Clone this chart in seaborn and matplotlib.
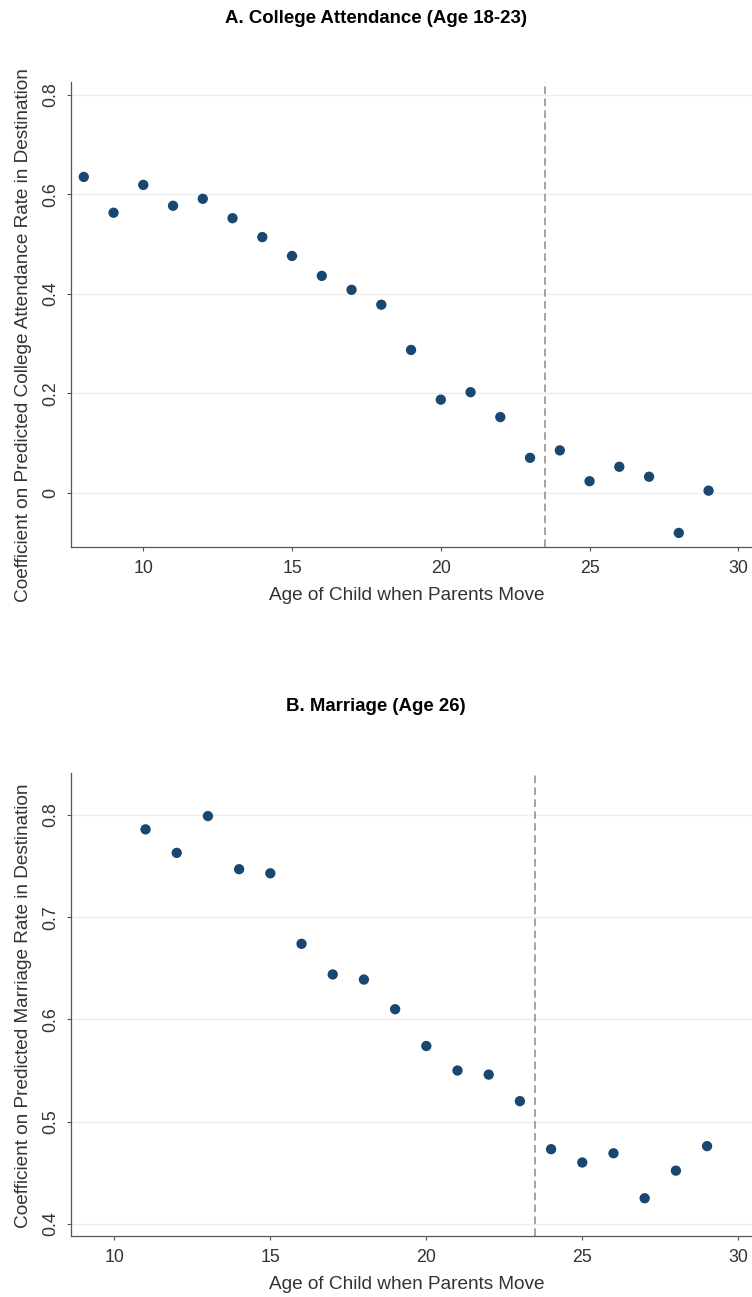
import matplotlib
matplotlib.use("Agg")
import matplotlib.pyplot as plt
import seaborn as sns
import pandas as pd

# --- DATA ---
ages_a = list(range(8, 30))
college = [0.635, 0.563, 0.619, 0.577, 0.591, 0.552, 0.514, 0.476, 0.436, 0.408, 0.378,
           0.287, 0.187, 0.202, 0.152, 0.070, 0.085, 0.023, 0.052, 0.032, -0.081, 0.004]
ages_b = list(range(11, 30))
marriage = [0.786, 0.763, 0.799, 0.747, 0.743, 0.674, 0.644, 0.639, 0.610, 0.574,
            0.550, 0.546, 0.520, 0.473, 0.460, 0.469, 0.425, 0.452, 0.476]

xticks = [10, 15, 20, 25, 30]
yticks_a = [0, 0.2, 0.4, 0.6, 0.8]
yticks_b = [0.4, 0.5, 0.6, 0.7, 0.8]
yticklabels_a = ["0", "0.2", "0.4", "0.6", "0.8"]
yticklabels_b = ["0.4", "0.5", "0.6", "0.7", "0.8"]
cutoff = 23.5

# --- STYLE ---
sns.set_style("white")
plt.rcParams['font.family'] = ['Liberation Sans', 'DejaVu Sans']
navy = "#1a476f"
axis_gray = "#555555"
text_gray = "#333333"

fig = plt.figure(figsize=(7.52, 12.97), dpi=100)
ax_a = fig.add_axes([0.0944, 0.5785, 0.9056, 0.3583])
ax_b = fig.add_axes([0.0944, 0.0470, 0.9056, 0.3572])

panels = [
    (ax_a, ages_a, college, yticks_a, yticklabels_a, (7.57, 30.46), (-0.1087, 0.826),
     "Coefficient on Predicted College Attendance Rate in Destination",
     "A. College Attendance (Age 18-23)", 0.9860, 0.455),
    (ax_b, ages_b, marriage, yticks_b, yticklabels_b, (8.61, 30.44), (0.388, 0.8414),
     "Coefficient on Predicted Marriage Rate in Destination",
     "B. Marriage (Age 26)", 0.4549, 0.498),
]

for ax, xs, ys, yt, ytl, xl, yl, ylab, title, ty, ly in panels:
    df = pd.DataFrame({"age": xs, "coef": ys})
    for v in yt:
        ax.axhline(v, color="#ededed", lw=1.0, zorder=0)
    ax.axvline(cutoff, color="#8a8a8a", lw=1.1, ls=(0, (5, 2.8)), zorder=1)
    sns.scatterplot(data=df, x="age", y="coef", ax=ax, color=navy, s=55,
                    edgecolor="none", zorder=3)
    ax.set_xlim(*xl)
    ax.set_ylim(*yl)
    ax.set_xticks(xticks)
    ax.set_yticks(yt)
    ax.set_yticklabels(ytl, rotation=90, va="center")
    ax.tick_params(axis="both", bottom=True, left=True, direction="out", length=3,
                   width=0.8, color=axis_gray, labelcolor=text_gray, labelsize=12.8)
    ax.tick_params(axis="x", pad=6.5)
    ax.tick_params(axis="y", pad=5.8)
    ax.set_xlabel("Age of Child when Parents Move", fontsize=13.7, color=text_gray)
    ax.set_ylabel(ylab, fontsize=13.7, color=text_gray)
    ax.xaxis.label.set_va("center")
    ax.yaxis.label.set_va("center")
    h_px = ax.get_position().height * fig.get_figheight() * fig.dpi
    w_px = ax.get_position().width * fig.get_figwidth() * fig.dpi
    ax.xaxis.set_label_coords((407 - 71) / w_px, -48.5 / h_px)
    ax.yaxis.set_label_coords(-47 / w_px, ly)
    for side in ["top", "right"]:
        ax.spines[side].set_visible(False)
    for side in ["left", "bottom"]:
        ax.spines[side].set_color(axis_gray)
        ax.spines[side].set_linewidth(0.9)
    fig.text(0.5, ty, title, ha="center", va="center", fontsize=13.4, fontweight="bold",
             color="black")

fig.savefig("out.png", dpi=100)
